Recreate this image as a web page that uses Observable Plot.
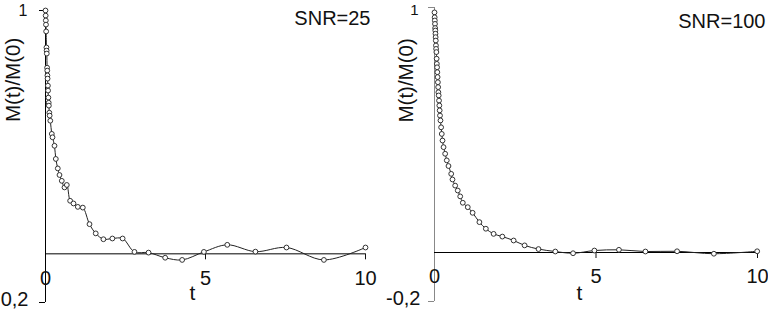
<!DOCTYPE html>
<html>
<head>
<meta charset="utf-8">
<script src="https://cdn.jsdelivr.net/npm/d3@7"></script>
<script src="https://cdn.jsdelivr.net/npm/@observablehq/plot@0.6"></script>
<style>
  html, body { margin: 0; padding: 0; background: white; overflow: hidden; }
  #wrap { position: relative; width: 768px; height: 313px; }
  #left, #right { position: absolute; top: 0; }
  #left { left: 0; }
  #right { left: 384px; }
</style>
</head>
<body>
<div id="wrap"><div id="left"></div><div id="right"></div></div>
<script>
// ---- data ----
const tLeft = [0,0.005,0.01,0.015,0.02,0.03,0.035,0.04,0.05,0.055,
  0.06,0.065,0.075,0.08,0.09,0.1,0.105,0.12,0.13,0.15,
  0.197,0.219,0.281,0.322,0.384,0.437,0.509,0.594,0.666,0.77,
  0.875,1.01,1.166,1.375,1.57,1.81,2.09,2.41,2.78,3.22,
  3.74,4.27,4.95,5.68,6.56,7.53,8.70,10.0];
const vLeft = [1.0,0.979,0.959,0.942,0.914,0.848,0.835,0.823,0.765,0.753,
  0.733,0.72,0.691,0.671,0.642,0.621,0.609,0.58,0.568,0.547,
  0.493,0.479,0.444,0.39,0.351,0.324,0.30,0.273,0.283,0.218,
  0.207,0.193,0.19,0.122,0.084,0.06,0.063,0.063,0.008,0.005,
  -0.016,-0.025,0.008,0.037,0.009,0.026,-0.025,0.026];

const tRight = [0,0.005,0.01,0.015,0.02,0.025,0.03,0.035,0.04,0.045,
  0.05,0.058,0.066,0.072,0.08,0.088,0.096,0.105,0.113,0.12,
  0.13,0.14,0.15,0.16,0.17,0.185,0.205,0.225,0.248,0.28,
  0.33,0.38,0.433,0.517,0.557,0.64,0.72,0.796,0.876,1.03,
  1.18,1.39,1.59,1.83,2.1,2.45,2.79,3.22,3.74,4.29,
  4.95,5.71,6.53,7.51,8.65,9.99];
const vRight = [0.98,0.96,0.947,0.933,0.916,0.906,0.893,0.879,0.865,0.845,
  0.831,0.818,0.791,0.77,0.756,0.736,0.716,0.695,0.675,0.654,
  0.641,0.62,0.6,0.58,0.559,0.539,0.511,0.484,0.457,0.43,
  0.403,0.376,0.353,0.321,0.298,0.273,0.253,0.229,0.203,0.185,
  0.162,0.124,0.097,0.076,0.065,0.049,0.029,0.014,0.004,-0.003,
  0.008,0.011,0.004,0.005,-0.005,0.005];

const xTickValues = [0, 5, 10];
const xTickLabels = ["0", "5", "10"];
const xTickMarks = [5, 10];
const yTickValues = [1, -0.2];
const yTickLabelsLeft = ["1", "0,2"];   // as visible in the reference (minus cut off)
const yTickLabelsRight = ["1", "-0,2"];
const titles = ["SNR=25", "SNR=100"];
const xLabel = "t";
const yLabel = "M(t)/M(0)";

function panel(t, v, title, yLabels, cfg) {
  const data = t.map((d, i) => ({t: d, v: v[i]}));
  return Plot.plot({
    width: 384,
    height: 313,
    marginLeft: cfg.ml, marginRight: cfg.mr, marginTop: cfg.mt, marginBottom: cfg.mb,
    style: {fontFamily: "'Liberation Sans', Arial, sans-serif", fontSize: "20px", color: "#111", background: "white"},
    x: {domain: [0, 10], axis: null},
    y: {domain: [-0.2, 1], axis: null},
    marks: [
      Plot.ruleX([0], {y1: -0.2, y2: 1, stroke: cfg.axisColor, strokeWidth: 1}),
      Plot.ruleY([0], {x1: 0, x2: 10, stroke: "#000", strokeWidth: 1}),
      Plot.ruleY(yTickValues, {x1: 0, x2: 0, insetLeft: -6, stroke: cfg.axisColor}),
      Plot.ruleX(xTickMarks, {y1: 0, y2: 0, insetBottom: -6, stroke: "#111"}),
      Plot.line(data, {x: "t", y: "v", curve: "catmull-rom", stroke: "#222", strokeWidth: 1}),
      Plot.dot(data, {x: "t", y: "v", r: 2.4, stroke: "#333", fill: "white", strokeWidth: 1}),
      Plot.text([yTickValues[0]], {y: d => d, text: () => yLabels[0], frameAnchor: "left", textAnchor: "end",
        dx: cfg.oneDx, dy: cfg.oneDy, fontSize: cfg.oneSize, fill: "#111"}),
      Plot.text([yTickValues[1]], {y: d => d, text: () => yLabels[1], frameAnchor: "left", textAnchor: "end",
        dx: cfg.negDx, dy: -3, fontSize: 20, fill: "#111"}),
      Plot.text(xTickValues, {x: d => d, text: (d, i) => xTickLabels[i], frameAnchor: "bottom",
        dy: cfg.xlDy, fontSize: 20, fill: "#111"}),
      Plot.text([xLabel], {text: d => d, frameAnchor: "bottom", dx: cfg.tDx, dy: cfg.tDy, fontSize: 21, fill: "#111"}),
      Plot.text([yLabel], {text: d => d, frameAnchor: "left", rotate: -90, dx: cfg.yDx, dy: cfg.yDy, fontSize: 20.5, fill: "#111"}),
      Plot.text([title], {text: d => d, frameAnchor: "top-right", textAnchor: "end", dx: cfg.ttDx, dy: cfg.ttDy, fontSize: 20, fill: "#111"})
    ]
  });
}

document.getElementById("left").appendChild(panel(tLeft, vLeft, titles[0], yTickLabelsLeft, {
  ml: 45, mr: 19, mt: 10, mb: 11, axisColor: "#000",
  oneDx: -18, oneDy: 0, oneSize: 16, negDx: -17, xlDy: -18,
  tDx: -13, tDy: -2.4, yDx: -32, yDy: -34.5, ttDx: 5, ttDy: 0
}));
document.getElementById("right").appendChild(panel(tRight, vRight, titles[1], yTickLabelsRight, {
  ml: 50, mr: 11, mt: 7, mb: 12, axisColor: "#888",
  oneDx: -16, oneDy: 3, oneSize: 15, negDx: -14, xlDy: -18.5,
  tDx: -16.5, tDy: -1.4, yDx: -28, yDy: -32, ttDx: 8, ttDy: 6
}));
</script>
</body>
</html>
